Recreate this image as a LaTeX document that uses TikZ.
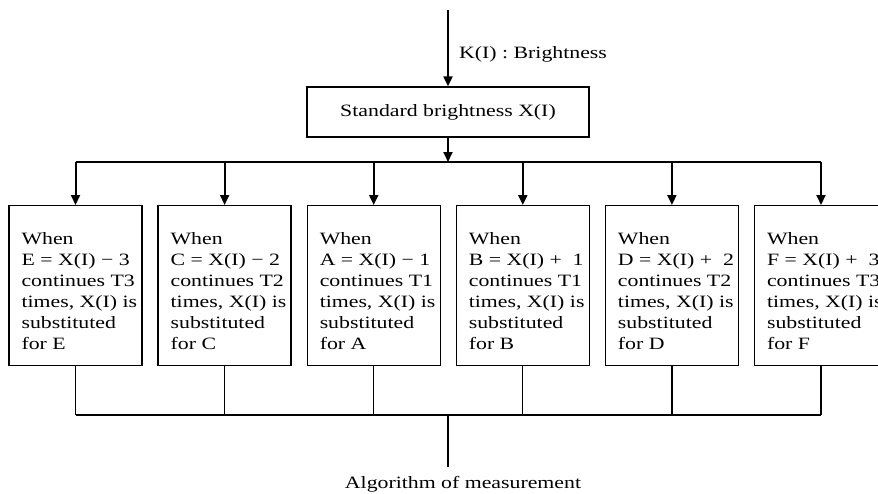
\documentclass[tikz,border=0pt]{standalone}
\usepackage{fontspec}
\setmainfont{Liberation Serif}[FakeStretch=1.26]
\usetikzlibrary{arrows.meta}
\tikzset{
  arr/.style={line width=2pt,-{Triangle[width=9pt,length=10pt]}},
  condbox/.style={draw,line width=1.3pt,minimum height=160pt,minimum width=133pt,anchor=north},
  condtext/.style={anchor=west,align=left,inner sep=0pt,font=\fontsize{17.3}{21}\selectfont},
  thin/.style={line width=1.2pt},
  lbl/.style={font=\fontsize{17.3}{21}\selectfont,inner sep=0pt}
}
\begin{document}
\begin{tikzpicture}[x=1pt,y=-1pt]
\clip (0,0) rectangle (878,493);
\fill[white] (0,0) rectangle (878,493);
\node[draw,line width=1.3pt,minimum width=282pt,minimum height=50pt,lbl] (std) at (448,112) {Standard brightness X(I)};
\coordinate (in) at (448,10);
\draw[arr] (in) -- (std.north);
\node[lbl,anchor=west] (klbl) at (459,54) {K(I) : Brightness};
\coordinate (hl) at (75.5,162);
\coordinate (hr) at (821,162);
\draw[line width=2pt] (hl) -- (hr);
\draw[arr] (std.south) -- (std.south |- hl);
\node[condbox] (b1) at (75.5,205) {};
\node[condbox] (b2) at (224.6,205) {};
\node[condbox] (b3) at (373.7,205) {};
\node[condbox] (b4) at (522.8,205) {};
\node[condbox] (b5) at (671.9,205) {};
\node[condbox] (b6) at (821,205) {};
\node[condtext] (t1) at ([xshift=13pt,yshift=-5pt]b1.west) {When\\E = X(I) − 3\\continues T3\\times, X(I) is\\substituted\\for E};
\node[condtext] (t2) at ([xshift=13pt,yshift=-5pt]b2.west) {When\\C = X(I) − 2\\continues T2\\times, X(I) is\\substituted\\for C};
\node[condtext] (t3) at ([xshift=13pt,yshift=-5pt]b3.west) {When\\A = X(I) − 1\\continues T1\\times, X(I) is\\substituted\\for A};
\node[condtext] (t4) at ([xshift=13pt,yshift=-5pt]b4.west) {When\\B = X(I) + ~1\\continues T1\\times, X(I) is\\substituted\\for B};
\node[condtext] (t5) at ([xshift=13pt,yshift=-5pt]b5.west) {When\\D = X(I) + ~2\\continues T2\\times, X(I) is\\substituted\\for D};
\node[condtext] (t6) at ([xshift=13pt,yshift=-5pt]b6.west) {When\\F = X(I) + ~3\\continues T3\\times, X(I) is\\substituted\\for F};
\coordinate (bl) at (75.5,415);
\coordinate (br) at (821,415);
\foreach \b in {b1,b2,b3,b4,b5,b6}{
  \draw[arr] (\b.north |- hl) -- (\b.north);
  \draw[thin] (\b.south) -- (\b.south |- bl);
}
\draw[thin] (bl) -- (br);
\coordinate (mid) at (448,415);
\coordinate (out) at (448,467);
\draw[thin] (mid) -- (out);
\node[lbl] (alg) at (463,484) {Algorithm of measurement};
\end{tikzpicture}
\end{document}
